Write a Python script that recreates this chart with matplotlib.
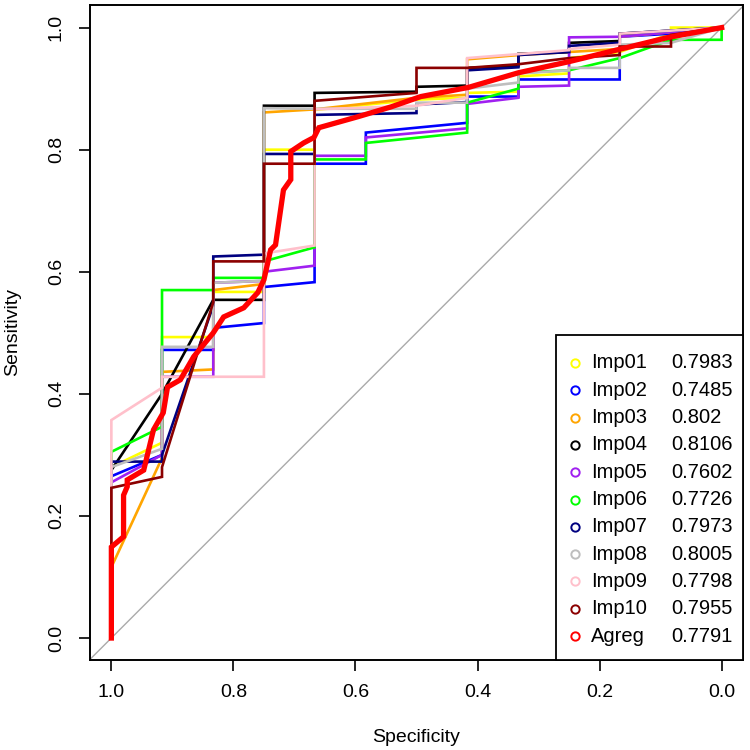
import matplotlib
matplotlib.use("Agg")
import matplotlib.pyplot as plt
from matplotlib.patches import Rectangle
from matplotlib.lines import Line2D

plt.rcParams['font.family'] = ['Liberation Sans', 'DejaVu Sans']

# ---------------- data (specificity, sensitivity) ----------------
imp01_spec = [1, 1, 0.917, 0.917, 0.833, 0.833, 0.75, 0.75, 0.667, 0.667, 0.5, 0.417, 0.417, 0.333, 0.333, 0.25, 0.25, 0.167, 0.083, 0.083, 0]
imp01_sens = [0, 0.28, 0.32, 0.493, 0.493, 0.567, 0.567, 0.80, 0.80, 0.865, 0.882, 0.885, 0.893, 0.895, 0.92, 0.925, 0.95, 0.96, 0.99, 1.0, 1.0]

imp02_spec = [1, 1, 0.917, 0.917, 0.833, 0.833, 0.75, 0.75, 0.667, 0.667, 0.583, 0.583, 0.417, 0.417, 0.333, 0.333, 0.167, 0.167, 0.083, 0]
imp02_sens = [0, 0.265, 0.30, 0.472, 0.472, 0.508, 0.516, 0.575, 0.583, 0.777, 0.777, 0.828, 0.844, 0.887, 0.887, 0.915, 0.915, 0.985, 0.99, 1.0]

imp03_spec = [1, 1, 0.917, 0.917, 0.833, 0.833, 0.75, 0.75, 0.667, 0.5, 0.417, 0.417, 0.333, 0.25, 0.167, 0.167, 0]
imp03_sens = [0, 0.116, 0.295, 0.436, 0.44, 0.57, 0.58, 0.861, 0.866, 0.885, 0.89, 0.948, 0.955, 0.96, 0.965, 0.985, 1.0]

imp04_spec = [1, 1, 0.917, 0.833, 0.75, 0.75, 0.667, 0.667, 0.5, 0.5, 0.417, 0.417, 0.333, 0.333, 0.25, 0.25, 0.167, 0.167, 0]
imp04_sens = [0, 0.275, 0.40, 0.554, 0.554, 0.872, 0.872, 0.893, 0.895, 0.903, 0.905, 0.934, 0.937, 0.957, 0.96, 0.975, 0.978, 0.99, 1.0]

imp05_spec = [1, 1, 0.917, 0.917, 0.833, 0.833, 0.75, 0.75, 0.667, 0.667, 0.583, 0.583, 0.417, 0.417, 0.333, 0.333, 0.25, 0.25, 0.167, 0]
imp05_sens = [0, 0.255, 0.30, 0.428, 0.428, 0.582, 0.585, 0.60, 0.61, 0.79, 0.79, 0.82, 0.835, 0.875, 0.885, 0.903, 0.905, 0.984, 0.985, 1.0]

imp06_spec = [1, 1, 0.917, 0.917, 0.833, 0.833, 0.75, 0.75, 0.667, 0.667, 0.583, 0.583, 0.417, 0.417, 0.333, 0.333, 0.25, 0.167, 0.083, 0, 0]
imp06_sens = [0, 0.305, 0.346, 0.57, 0.57, 0.59, 0.59, 0.617, 0.64, 0.784, 0.784, 0.811, 0.828, 0.877, 0.90, 0.926, 0.93, 0.95, 0.98, 0.98, 1.0]

imp07_spec = [1, 1, 0.917, 0.917, 0.833, 0.833, 0.75, 0.75, 0.667, 0.667, 0.5, 0.5, 0.417, 0.417, 0.333, 0.333, 0.25, 0.25, 0.167, 0.167, 0]
imp07_sens = [0, 0.289, 0.289, 0.30, 0.545, 0.625, 0.628, 0.793, 0.793, 0.857, 0.860, 0.874, 0.878, 0.93, 0.935, 0.955, 0.96, 0.97, 0.975, 0.99, 1.0]

imp08_spec = [1, 1, 0.917, 0.917, 0.833, 0.833, 0.75, 0.75, 0.667, 0.5, 0.5, 0.417, 0.417, 0.333, 0.333, 0.25, 0.25, 0.167, 0.167, 0.083, 0]
imp08_sens = [0, 0.28, 0.31, 0.477, 0.477, 0.582, 0.585, 0.868, 0.867, 0.867, 0.877, 0.877, 0.90, 0.91, 0.925, 0.93, 0.934, 0.934, 0.972, 0.975, 1.0]

imp09_spec = [1, 1, 0.917, 0.917, 0.75, 0.75, 0.667, 0.667, 0.5, 0.417, 0.417, 0.25, 0.25, 0.167, 0.167, 0.083, 0]
imp09_sens = [0, 0.357, 0.41, 0.428, 0.428, 0.63, 0.643, 0.866, 0.872, 0.885, 0.95, 0.963, 0.965, 0.972, 0.99, 0.995, 1.0]

imp10_spec = [1, 1, 0.917, 0.917, 0.833, 0.833, 0.75, 0.75, 0.667, 0.667, 0.5, 0.5, 0.417, 0.333, 0.25, 0.167, 0.167, 0.083, 0.083, 0]
imp10_sens = [0, 0.246, 0.264, 0.28, 0.55, 0.617, 0.617, 0.777, 0.777, 0.88, 0.893, 0.934, 0.934, 0.94, 0.95, 0.955, 0.969, 0.969, 0.988, 1.0]

agreg_spec = [1.0, 1.0, 0.980, 0.980, 0.974, 0.974, 0.947, 0.931, 0.915, 0.908, 0.887, 0.865, 0.833, 0.816, 0.783,
              0.760, 0.750, 0.739, 0.731, 0.718, 0.706, 0.706, 0.685, 0.668, 0.660, 0.596, 0.542, 0.493, 0.415,
              0.333, 0.251, 0.169, 0.087, 0.0]
agreg_sens = [0.0, 0.149, 0.166, 0.234, 0.248, 0.259, 0.275, 0.341, 0.369, 0.411, 0.423, 0.461, 0.5, 0.526, 0.541,
              0.566, 0.587, 0.636, 0.644, 0.734, 0.751, 0.797, 0.811, 0.820, 0.836, 0.854, 0.870, 0.887, 0.902,
              0.926, 0.944, 0.964, 0.984, 1.0]

labels = ["Imp01", "Imp02", "Imp03", "Imp04", "Imp05", "Imp06", "Imp07", "Imp08", "Imp09", "Imp10", "Agreg"]
auc_text = ["0.7983", "0.7485", "0.802", "0.8106", "0.7602", "0.7726", "0.7973", "0.8005", "0.7798", "0.7955", "0.7791"]
colors = ["#FFFF00", "#0000FF", "#FFA500", "#000000", "#A020F0", "#00FF00", "#000080", "#BEBEBE", "#FFC0CB", "#8B0000", "#FF0000"]

tick_vals = [1.0, 0.8, 0.6, 0.4, 0.2, 0.0]
tick_labels = ["1.0", "0.8", "0.6", "0.4", "0.2", "0.0"]
ytick_vals = [0.0, 0.2, 0.4, 0.6, 0.8, 1.0]
ytick_labels = ["0.0", "0.2", "0.4", "0.6", "0.8", "1.0"]

curves = [(imp01_spec, imp01_sens), (imp02_spec, imp02_sens), (imp03_spec, imp03_sens),
          (imp04_spec, imp04_sens), (imp05_spec, imp05_sens), (imp06_spec, imp06_sens),
          (imp07_spec, imp07_sens), (imp08_spec, imp08_sens), (imp09_spec, imp09_sens),
          (imp10_spec, imp10_sens), (agreg_spec, agreg_sens)]

# ---------------- figure ----------------
W = H = 750
fig = plt.figure(figsize=(7.5, 7.5), dpi=100)
ax = fig.add_axes([90 / W, 1 - 660 / H, (743 - 90) / W, (660 - 5) / H])
ax.set_xlim(1.035, -0.035)
ax.set_ylim(-0.036, 1.037)

ax.axline((1, 0), (0, 1), color="#AAAAAA", lw=1.0, zorder=1)

for i, (sx, sy) in enumerate(curves):
    lw = 3.8 if labels[i] == "Agreg" else 1.9
    ax.plot(sx, sy, color=colors[i], lw=lw, solid_joinstyle="miter", zorder=2 + i)

for sp in ax.spines.values():
    sp.set_linewidth(1.4)

ax.set_xticks(tick_vals)
ax.set_xticklabels(tick_labels)
ax.set_yticks(ytick_vals)
ax.set_yticklabels(ytick_labels, rotation=90, va="center")
ax.tick_params(direction="out", length=8, width=1.2, labelsize=14)
ax.tick_params(axis="x", pad=9)
ax.tick_params(axis="y", pad=10)

ax.set_xlabel("Specificity", fontsize=14)
ax.set_ylabel("Sensitivity", fontsize=14)
ax.xaxis.set_label_coords(0.5, (660 - 737) / 655)
ax.xaxis.label.set_va("center")
ax.yaxis.set_label_coords((13 - 90) / 653, 0.5)
ax.yaxis.label.set_va("center")

# ---------------- legend ----------------
lx0, lx1, ly0, ly1 = 556, 743, 335, 660
fig.add_artist(Rectangle((lx0 / W, 1 - ly1 / H), (lx1 - lx0) / W, (ly1 - ly0) / H,
                         transform=fig.transFigure, facecolor="white", edgecolor="black",
                         lw=1.3, zorder=20))
for i, lab in enumerate(labels):
    yy = 1 - (363 + i * 27.3) / H
    fig.add_artist(Line2D([575 / W], [yy], transform=fig.transFigure, marker="o", ms=6,
                          mfc="none", mec=colors[i], mew=1.4, ls="none", zorder=21))
    fig.text(591 / W, yy, lab, fontsize=14.5, ha="left", va="center", zorder=21)
    fig.text(671 / W, yy, auc_text[i], fontsize=14.5, ha="left", va="center", zorder=21)

fig.savefig("out.png", dpi=100)
